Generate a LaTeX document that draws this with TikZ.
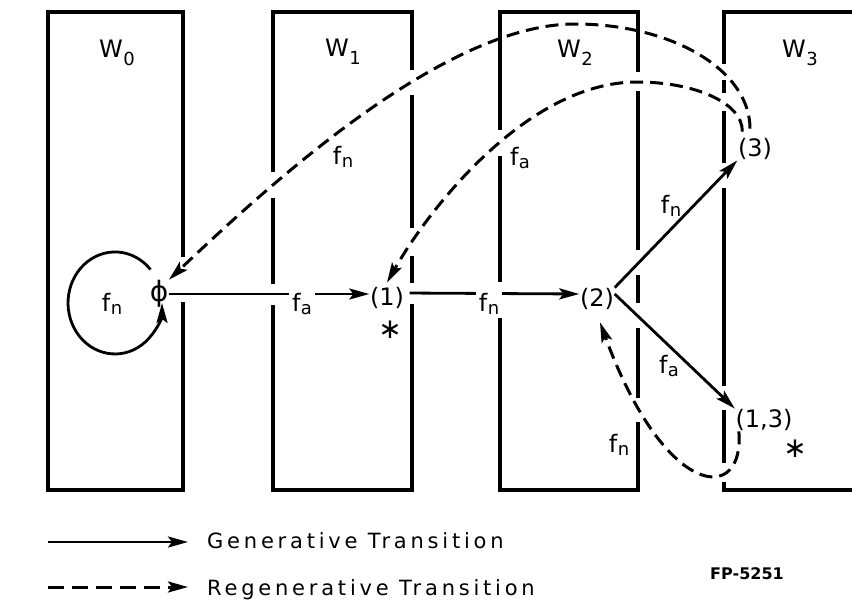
\documentclass[tikz,border=0pt]{standalone}
\usepackage{fontspec}
\setmainfont{DejaVu Sans}
\usetikzlibrary{arrows.meta,calc}
\newcommand\lblsub[2]{#1\kern0.5pt\raisebox{-3pt}{\fontsize{18}{18}\selectfont #2}}
\newcommand\wsub[1]{W\kern0.5pt\raisebox{-8pt}{\fontsize{18}{18}\selectfont #1}}
\tikzset{
 box/.style={line width=4.5pt},
 tip/.style={-{Stealth[length=20pt,width=11pt,inset=4pt]}},
 gen/.style={line width=2.8pt,tip},
 regen/.style={line width=3pt,dash pattern=on 13pt off 7pt,tip},
 regenl/.style={line width=3pt,dash pattern=on 16pt off 8pt,tip},
 state/.style={inner sep=0.5pt,font=\fontsize{24}{28}\selectfont},
 lab/.style={inner sep=1pt,font=\fontsize{24}{28}\selectfont},
 legend/.style={anchor=base west,inner sep=0pt,font=\fontsize{21}{25}\selectfont\addfontfeature{LetterSpace=18}},
}
\begin{document}
\begin{tikzpicture}[x=1pt,y=-1pt]
\useasboundingbox (0,0) rectangle (852,605);
\fill[white] (0,0) rectangle (852,605);
% boxes (edges broken where transitions cross them)
\draw[box] (183,257) -- (183,12) -- (48,12) -- (48,490) -- (183,490) -- (183,302);
\draw[box] (273,172) -- (273,12) -- (412,12) -- (412,70);
\draw[box] (412,95) -- (412,228);
\draw[box] (412,256) -- (412,283);
\draw[box] (412,304) -- (412,490) -- (273,490) -- (273,305);
\draw[box] (273,198) -- (273,284);
\draw[box] (500,130) -- (500,12) -- (638,12) -- (638,72);
\draw[box] (638,91) -- (638,250);
\draw[box] (638,275) -- (638,303);
\draw[box] (638,328) -- (638,398);
\draw[box] (638,422) -- (638,490) -- (500,490) -- (500,318);
\draw[box] (500,156) -- (500,282);
\draw[box] (860,12) -- (724,12) -- (724,64);
\draw[box] (724,80) -- (724,93);
\draw[box] (724,111) -- (724,163);
\draw[box] (724,188) -- (724,386);
\draw[box] (724,410) -- (724,463);
\draw[box] (724,482) -- (724,490) -- (860,490);
% box titles
\node[lab] (w0) at (117,52.5) {\wsub{0}};
\node[lab] (w1) at (343,52) {\wsub{1}};
\node[lab] (w2) at (575,53) {\wsub{2}};
\node[lab] (w3) at (800,53) {\wsub{3}};
% states
\node[state,font=\fontsize{28}{30}\selectfont] (phi) at (159,294) {ϕ};
\node[state] (s1) at (387,298) {(1)};
\node[state] (s2) at (597,299) {(2)};
\node[state] (s3) at (755,149) {(3)};
\node[state] (s13) at (764,420) {(1,3)};
\node[lab,font=\fontsize{28}{30}\selectfont] (st1) at (390,330) {∗};
\node[lab,font=\fontsize{28}{30}\selectfont] (st13) at (795,449) {∗};
% generative transitions
\draw[gen] (phi.east) -- (phi.east -| s1.west);
\draw[gen,shorten <=5pt] ([yshift=5pt]s1.east) -- ([yshift=5pt]s2.west);
\draw[gen] (s2.north east) -- (s3.south west);
\draw[gen] ([yshift=5pt]s2.east) -- (s13.north west);
\draw[gen] ([shift={(-8.5,-24.5)}]phi.center) arc[start angle=41, end angle=360, x radius=47pt, y radius=51pt];
% regenerative transitions
\draw[regen] ([shift={(-5,-9)}]s3.north) .. controls (750,70) and (672,24) .. (575,24) .. controls (445,24) and (272,182) .. (phi.north east);
\draw[regen] ([shift={(5,-6)}]s3.north west) .. controls (743,103) and (695,82) .. (637,82) .. controls (527,82) and (428,210) .. ([yshift=4pt]s1.north);
\draw[regen] ([xshift=4pt]s13.south west) .. controls (745,505) and (665,500) .. ([shift={(3,12)}]s2.south);
% transition labels
\node[lab,fill=white,inner sep=3pt] (la1) at (302,304) {\lblsub{f}{a}};
\node[lab,fill=white,inner sep=3pt] (la2) at (489,304) {\lblsub{f}{n}};
\node[lab] (la3) at (671,206) {\lblsub{f}{n}};
\node[lab] (la4) at (669,366) {\lblsub{f}{a}};
\node[lab] (la5) at (619,445) {\lblsub{f}{n}};
\node[lab] (la6) at (343,157) {\lblsub{f}{n}};
\node[lab] (la7) at (520,158) {\lblsub{f}{a}};
\node[lab] (la8) at (112,304) {\lblsub{f}{n}};
% legend
\coordinate (g1) at (48,542); \coordinate (g2) at (188,542);
\draw[gen] (g1) -- (g2);
\node[legend] (gt) at (207,548) {Generative Transition};
\coordinate (r1) at (48,587); \coordinate (r2) at (188,587);
\draw[regenl] (r1) -- (r2);
\node[legend] (rt) at (207,595) {Regenerative Transition};
\node[font=\fontsize{16}{18}\selectfont\bfseries] (fp) at (747,574) {FP-5251};
\end{tikzpicture}
\end{document}
